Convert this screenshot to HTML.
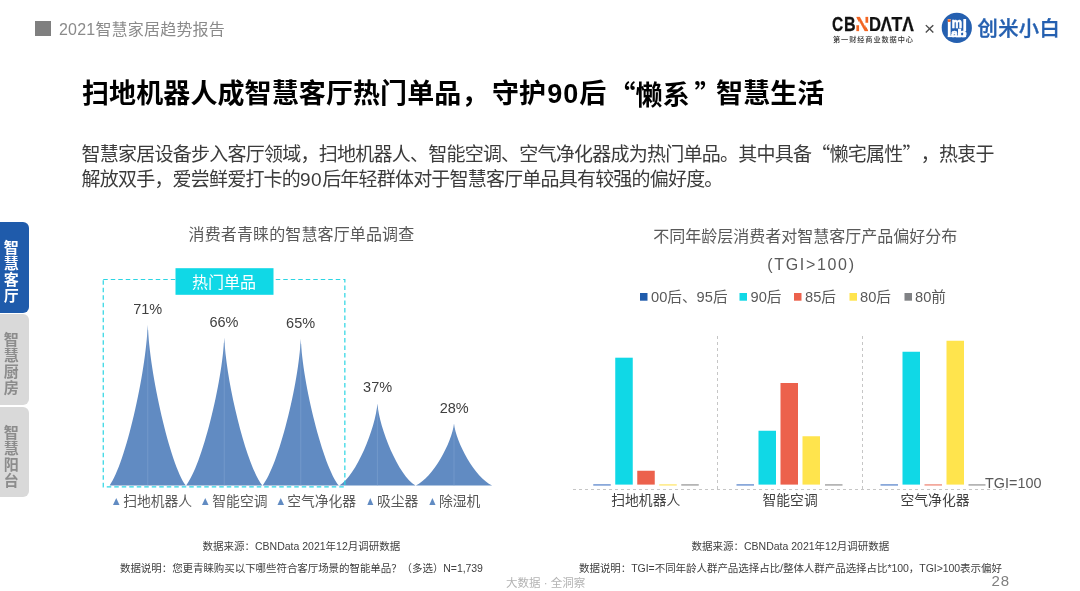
<!DOCTYPE html>
<html lang="zh-CN">
<head>
<meta charset="utf-8">
<title>2021智慧家居趋势报告</title>
<style>
html,body{margin:0;padding:0;}
body{width:1080px;height:591px;position:relative;overflow:hidden;background:#fff;
  font-family:"Liberation Sans","Noto Sans CJK SC",sans-serif;color:#404040;}
.abs{position:absolute;white-space:nowrap;text-spacing-trim:space-all;}
.cjk{font-family:"Noto Sans CJK SC",sans-serif;}
#hdr-sq{left:35px;top:21px;width:16px;height:15px;background:#7f7f7f;}
#hdr{left:59px;top:19px;font-size:16px;line-height:22px;color:#8a8a8a;letter-spacing:0.2px;}
#title{left:82px;top:74px;font-size:27px;line-height:40px;font-weight:bold;color:#000;height:40px;width:760px;letter-spacing:0.1px;}
#title span{position:absolute;top:0;}
#title i{font-style:normal;letter-spacing:1px;margin-left:1px;}
#p1{left:81.6px;top:140px;font-size:19px;line-height:26px;color:#3b3b3b;letter-spacing:-0.76px;}
#p2{left:81.6px;top:167px;font-size:19px;line-height:26px;color:#3b3b3b;letter-spacing:-0.8px;}
.tab{position:absolute;left:0;width:29px;border-radius:0 6px 6px 0;font-weight:bold;font-size:15px;line-height:16px;text-align:center;}
.tab span{display:block;width:16px;margin-left:3.3px;}
#tab1{top:222px;height:91px;background:#1f5bab;color:#fff;}
#tab2{top:314px;height:91px;background:#d9d9d9;color:#8c8c8c;}
#tab3{top:407px;height:90px;background:#d9d9d9;color:#8c8c8c;}
.ct{font-size:16px;line-height:22px;color:#595959;}
.pl{font-size:14.5px;line-height:16px;color:#404040;text-align:center;width:60px;}
.lg{font-size:13.8px;line-height:18px;color:#595959;}
.src{font-size:10.5px;line-height:14px;color:#404040;}
</style>
</head>
<body>
<div class="abs" id="hdr-sq"></div>
<div class="abs" id="hdr">2021智慧家居趋势报告</div>

<div class="abs" id="title"><span style="left:0">扫地机器人成智慧客厅热门单品，</span><span style="left:410px">守护<i>90</i>后</span><span class="cjk" style="left:526.5px">“懒系</span><span class="cjk" style="left:612.5px">”</span><span style="left:634px">智慧生活</span></div>
<div class="abs" id="p1">智慧家居设备步入客厅领域，扫地机器人、智能空调、空气净化器成为热门单品。其中具备<span class="cjk">“</span>懒宅属性<span class="cjk">”</span>，热衷于</div>
<div class="abs" id="p2">解放双手，爱尝鲜爱打卡的<span style="letter-spacing:0.5px">90</span>后年轻群体对于智慧客厅单品具有较强的偏好度。</div>

<div class="tab" id="tab1"><span style="padding-top:17.8px">智</span><span>慧</span><span>客</span><span>厅</span></div>
<div class="tab" id="tab2"><span style="padding-top:17.8px">智</span><span>慧</span><span>厨</span><span>房</span></div>
<div class="tab" id="tab3"><span style="padding-top:17.8px">智</span><span>慧</span><span>阳</span><span>台</span></div>

<!-- logos -->
<svg class="abs" id="logos" style="left:820px;top:5px" width="260" height="55" viewBox="820 5 260 55">
  <defs><clipPath id="nclip" clipPathUnits="userSpaceOnUse"><path d="M855.8 16.5 H860.2 L868.8 31.5 H864.2 Z M855.8 25.3 H859.3 V31.5 H855.8 Z M865.2 16.5 H868.8 V22.8 H865.2 Z"/></clipPath></defs>
  <text transform="translate(832.06 30.9) scale(0.784 1)" font-family="Liberation Sans, sans-serif" font-weight="bold" font-size="19.9" fill="#111" stroke="#111" stroke-width="0.25">C</text>
  <text transform="translate(843.92 30.9) scale(0.807 1)" font-family="Liberation Sans, sans-serif" font-weight="bold" font-size="19.9" fill="#111" stroke="#111" stroke-width="0.25">B</text>
  <g clip-path="url(#nclip)"><text transform="translate(855.19 30.9) scale(0.983 1)" font-family="Liberation Sans, sans-serif" font-weight="bold" font-size="19.9" fill="#f26522" stroke="#f26522" stroke-width="0.25">N</text></g>
  <text transform="translate(869.09 30.9) scale(0.836 1)" font-family="Liberation Sans, sans-serif" font-weight="bold" font-size="19.9" fill="#111" stroke="#111" stroke-width="0.25">D</text>
  <text transform="translate(880.48 30.9) scale(0.870 1)" font-family="Liberation Sans, sans-serif" font-weight="bold" font-size="19.9" fill="#111" stroke="#111" stroke-width="0.25">Λ</text>
  <text transform="translate(891.51 30.9) scale(0.887 1)" font-family="Liberation Sans, sans-serif" font-weight="bold" font-size="19.9" fill="#111" stroke="#111" stroke-width="0.25">T</text>
  <text transform="translate(902.18 30.9) scale(0.870 1)" font-family="Liberation Sans, sans-serif" font-weight="bold" font-size="19.9" fill="#111" stroke="#111" stroke-width="0.25">Λ</text>
  <text x="833" y="42.2" font-family="Noto Sans CJK SC, sans-serif" font-weight="500" font-size="7.2" letter-spacing="0.9" fill="#333">第一财经商业数据中心</text>
  <text x="924" y="34.9" font-family="Liberation Sans, sans-serif" font-size="19" fill="#4d4d4d">×</text>
  <circle cx="956.8" cy="27.8" r="15.1" fill="#2560b0"/>
  <text transform="translate(946.42 28.3) scale(1.630 1)" font-family="Liberation Sans, sans-serif" font-weight="bold" font-size="12.1" fill="#fff">i</text>
  <text transform="translate(951.79 28.3) scale(0.771 1)" font-family="Liberation Sans, sans-serif" font-weight="bold" font-size="15" fill="#fff" stroke="#fff" stroke-width="0.7">m</text>
  <text transform="translate(962.02 31.35) scale(1.173 1)" font-family="Liberation Sans, sans-serif" font-weight="bold" font-size="16.8" fill="#fff">l</text>
  <text transform="translate(946.42 37.1) scale(1.630 1)" font-family="Liberation Sans, sans-serif" font-weight="bold" font-size="12.1" fill="#fff">l</text>
  <text transform="translate(951.17 37.1) scale(0.978 1)" font-family="Liberation Sans, sans-serif" font-weight="bold" font-size="11.7" fill="#fff" stroke="#fff" stroke-width="0.7">a</text>
  <text transform="translate(957.62 37.1) scale(1.473 1)" font-family="Liberation Sans, sans-serif" font-weight="bold" font-size="10.1" fill="#fff" stroke="#fff" stroke-width="0.7">b</text>
  <rect x="947.8" y="35.7" width="18.3" height="1.4" fill="#fff"/>
  <rect x="947.7" y="19.3" width="2.9" height="2.6" fill="#f26522"/>
  <text x="977.5" y="35.5" font-family="Noto Sans CJK SC, sans-serif" font-weight="500" font-size="20.3" letter-spacing="0.35" stroke="#2560b0" stroke-width="0.35" fill="#2560b0">创米小白</text>
</svg>

<!-- left chart -->
<div class="abs ct" style="left:188.5px;top:224px;letter-spacing:0.13px;">消费者青睐的智慧客厅单品调查</div>
<svg class="abs" style="left:90px;top:260px" width="420" height="235" viewBox="90 260 420 235">
  <g fill="#618bc2">
    <path d="M147.75 324.80 C149.66 373.65 170.11 464.29 185.85 485.5 H109.65 C125.39 464.29 145.84 373.65 147.75 324.80 Z"/>
    <path d="M224.25 337.55 C226.16 382.53 246.61 465.97 262.35 485.5 H186.15 C201.89 465.97 222.34 382.53 224.25 337.55 Z"/>
    <path d="M300.75 338.80 C302.65 383.40 323.11 466.14 338.85 485.5 H262.65 C278.39 466.14 298.85 383.40 300.75 338.80 Z"/>
    <path d="M377.40 403.40 C379.30 428.36 398.55 475.48 415.50 485.5 H339.30 C356.25 475.48 375.50 428.36 377.40 403.40 Z"/>
    <path d="M454.00 423.60 C455.90 442.42 475.15 477.95 492.10 485.5 H415.90 C432.85 477.95 452.10 442.42 454.00 423.60 Z"/>
  </g>
  <g stroke="#86a7d3" stroke-width="0.6" opacity="0.8">
    <path d="M147.75 330 V485.5 M224.25 343 V485.5 M300.75 344 V485.5 M377.4 409 V485.5 M454 429 V485.5"/>
  </g>
  <rect x="103.25" y="279.5" width="241.6" height="207.3" fill="none" stroke="#2bd5e3" stroke-width="1.2" stroke-dasharray="4.5 3"/>
  <rect x="175.5" y="268.2" width="98" height="26.6" fill="#10d8e6"/>
  <text x="192" y="287.5" font-family="Noto Sans CJK SC, sans-serif" font-size="16" fill="#fff">热门单品</text>
</svg>
<div class="abs pl" style="left:117.7px;top:300.8px;">71%</div>
<div class="abs pl" style="left:194px;top:313.8px;">66%</div>
<div class="abs pl" style="left:270.6px;top:315.2px;">65%</div>
<div class="abs pl" style="left:347.6px;top:379.4px;">37%</div>
<div class="abs pl" style="left:424.2px;top:400.4px;">28%</div>

<svg class="abs" style="left:100px;top:492px" width="400" height="20" viewBox="100 492 400 20">
  <g fill="#618bc2">
    <path d="M113 505 L116.25 498 L119.5 505 Z"/>
    <path d="M202 505 L205.25 498 L208.5 505 Z"/>
    <path d="M277.5 505 L280.75 498 L284 505 Z"/>
    <path d="M367.3 505 L370.3 498 L373.3 505 Z"/>
    <path d="M429.3 505 L432.4 498 L435.5 505 Z"/>
  </g>
</svg>
<div class="abs lg" style="left:123.2px;top:493px;">扫地机器人</div>
<div class="abs lg" style="left:212.3px;top:493px;">智能空调</div>
<div class="abs lg" style="left:287.2px;top:493px;">空气净化器</div>
<div class="abs lg" style="left:377px;top:493px;">吸尘器</div>
<div class="abs lg" style="left:439px;top:493px;">除湿机</div>

<div class="abs src" style="left:202.5px;top:538.5px;">数据来源：CBNData 2021年12月调研数据</div>
<div class="abs src" style="left:120px;top:561px;letter-spacing:-0.07px;">数据说明：您更青睐购买以下哪些符合客厅场景的智能单品？（多选）N=1,739</div>

<!-- right chart -->
<div class="abs ct" style="left:653.3px;top:226px;">不同年龄层消费者对智慧客厅产品偏好分布</div>
<div class="abs ct" style="left:767.2px;top:254px;letter-spacing:1.68px;">(TGI&gt;100)</div>

<svg class="abs" style="left:560px;top:285px" width="520" height="215" viewBox="560 285 520 215">
  <rect x="640" y="293" width="7.5" height="7.7" fill="#1f5bab"/>
  <rect x="739.5" y="293" width="7.5" height="7.7" fill="#10d8e6"/>
  <rect x="794" y="293" width="7.5" height="7.7" fill="#ec614c"/>
  <rect x="849.5" y="293" width="7.5" height="7.7" fill="#ffe44d"/>
  <rect x="904.5" y="293" width="7.5" height="7.7" fill="#808285"/>
  <g stroke="#c6c6c6" stroke-width="1" stroke-dasharray="3 3" fill="none">
    <path d="M573 489.5 H1007"/>
    <path d="M717.5 336 V489.5"/>
    <path d="M862.5 336 V489.5"/>
  </g>
  <!-- group 1 -->
  <rect x="593.25" y="484.1" width="17.5" height="1.6" fill="#7d9fd6"/>
  <rect x="615.25" y="357.7" width="17.5" height="126.90" fill="#10d8e6"/>
  <rect x="637.25" y="470.75" width="17.5" height="13.85" fill="#ec614c"/>
  <rect x="659.25" y="484.1" width="17.5" height="1.6" fill="#ffec8a"/>
  <rect x="681.25" y="484.1" width="17.5" height="1.6" fill="#adadad"/>
  <!-- group 2 -->
  <rect x="736.5" y="484.1" width="17.5" height="1.6" fill="#7d9fd6"/>
  <rect x="758.5" y="430.75" width="17.5" height="53.85" fill="#10d8e6"/>
  <rect x="780.5" y="383" width="17.5" height="101.60" fill="#ec614c"/>
  <rect x="802.5" y="436.25" width="17.5" height="48.35" fill="#ffe44d"/>
  <rect x="825" y="484.1" width="17.5" height="1.6" fill="#adadad"/>
  <!-- group 3 -->
  <rect x="880.5" y="484.1" width="17.5" height="1.6" fill="#7d9fd6"/>
  <rect x="902.5" y="351.75" width="17.5" height="132.85" fill="#10d8e6"/>
  <rect x="924.5" y="484.1" width="17.5" height="1.6" fill="#f2a093"/>
  <rect x="946.5" y="340.75" width="17.5" height="143.85" fill="#ffe44d"/>
  <rect x="968.5" y="484.1" width="17" height="1.6" fill="#adadad"/>
</svg>
<div class="abs" style="left:651px;top:287px;font-size:14.67px;line-height:20px;color:#595959;">00后、95后</div>
<div class="abs" style="left:750.5px;top:287px;font-size:14.67px;line-height:20px;color:#595959;">90后</div>
<div class="abs" style="left:805px;top:287px;font-size:14.67px;line-height:20px;color:#595959;">85后</div>
<div class="abs" style="left:860px;top:287px;font-size:14.67px;line-height:20px;color:#595959;">80后</div>
<div class="abs" style="left:915px;top:287px;font-size:14.67px;line-height:20px;color:#595959;">80前</div>

<div class="abs lg" style="left:611.25px;top:491.5px;color:#404040;">扫地机器人</div>
<div class="abs lg" style="left:762.5px;top:491.5px;color:#404040;">智能空调</div>
<div class="abs lg" style="left:900.5px;top:491.5px;color:#404040;">空气净化器</div>
<div class="abs" style="left:985px;top:474.4px;font-size:14.4px;line-height:18px;color:#595959;">TGI=100</div>

<div class="abs src" style="left:691.5px;top:538.5px;">数据来源：CBNData 2021年12月调研数据</div>
<div class="abs src" style="left:579px;top:561px;letter-spacing:-0.05px;">数据说明：TGI=不同年龄人群产品选择占比/整体人群产品选择占比*100，TGI&gt;100表示偏好</div>

<div class="abs" style="left:506px;top:575.7px;font-size:11.5px;line-height:15px;color:#b3b3b3;">大数据 · 全洞察</div>
<div class="abs" style="left:991.5px;top:571.5px;font-size:15px;line-height:18px;letter-spacing:0.9px;color:#808080;">28</div>
</body>
</html>
